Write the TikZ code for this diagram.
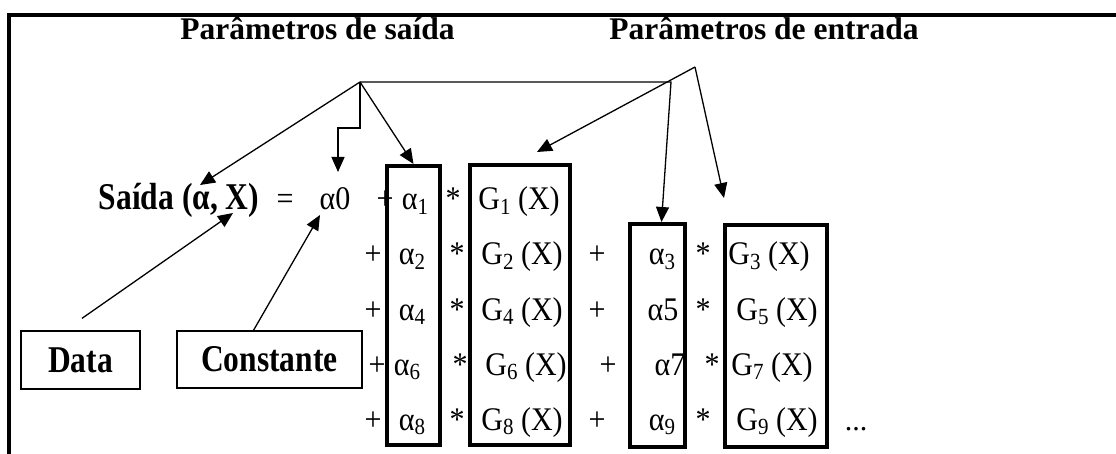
\documentclass[tikz,border=0pt]{standalone}
\usepackage{fontspec}
\setmainfont{Liberation Serif}
\usetikzlibrary{arrows.meta,positioning}
\newcommand{\sbs}[1]{\raisebox{-.15em}{\fontsize{21}{21}\selectfont #1}}
\newcommand{\st}[1]{\scalebox{1}[1.1]{#1}}
\newcommand{\stb}[1]{\scalebox{1}[1.2]{#1}}

\begin{document}
\begin{tikzpicture}[x=1pt, y=-1pt, >={Triangle[length=15pt,width=13pt]}, line width=1.3pt,
    txt/.style={inner sep=0pt, anchor=base, font=\fontsize{30}{34}\selectfont},
    bld/.style={inner sep=0pt, anchor=base, font=\fontsize{31.5}{36}\selectfont\bfseries},
    colbox/.style={draw, line width=4pt, inner sep=0pt},
    lblbox/.style={draw, line width=1.3pt, inner sep=0pt, font=\fontsize{31.5}{36}\selectfont\bfseries}]
    \useasboundingbox (0,0) rectangle (1116,454);
    \draw[line width=4pt] (1120,15) -- (9,15) -- (9,460);
    \node[bld] (tsaida) at (317.5,40) {Parâmetros de saída};
    \node[bld] (tentrada) at (764,40) {Parâmetros de entrada};
    \node[bld] (saida) at (179,210) {\stb{Saída (α, X)}};
    \node[txt] (eq) at (285,210) {\st{=}};
    \node[txt] (a0) at (335,210) {\st{α0}};
    \node[txt] (p1) at (385,210) {\st{+}};
    \node[txt] (a1) at (415,210) {\st{α\sbs{1}}};
    \node[txt] (s1) at (453,210) {\st{*}};
    \node[txt] (g1) at (519,210) {\st{G\sbs{1} (X)}};
    \foreach \n/\b/\xp/\xa/\xs/\xg in {2/265/373/412/457/522, 4/320/373/412/457/522, 6/375/377/407/460/526, 8/430/373/412/457/522} {
      \node[txt] (p\n) at (\xp,\b) {\st{+}};
      \node[txt] (a\n) at (\xa,\b) {\st{α\sbs{\n}}};
      \node[txt] (s\n) at (\xs,\b) {\st{*}};
      \node[txt] (g\n) at (\xg,\b) {\st{G\sbs{\n} (X)}};
    }
    \foreach \n/\b/\xp/\atxt/\xa/\xs/\xg in {3/265/597/{α\sbs{3}}/662/703/769, 5/320/597/α5/663/703/777, 7/375/608/α7/670/712/772, 9/430/597/{α\sbs{9}}/662/703/777} {
      \node[txt] (p\n) at (\xp,\b) {\st{+}};
      \node[txt] (a\n) at (\xa,\b) {\st{\atxt}};
      \node[txt] (s\n) at (\xs,\b) {\st{*}};
      \node[txt] (g\n) at (\xg,\b) {\st{G\sbs{\n} (X)}};
    }
    \node[txt] (dots) at (856,430) {...};
    \node[colbox, minimum width=53pt, minimum height=279pt] (acolA) at (413.5,305.5) {};
    \node[colbox, minimum width=100pt, minimum height=280pt] (gcolA) at (520,305) {};
    \node[colbox, minimum width=55pt, minimum height=223pt] (acolB) at (657.5,335.5) {};
    \node[colbox, minimum width=102pt, minimum height=222pt] (gcolB) at (776,336) {};
    \node[lblbox, minimum width=119pt, minimum height=58pt] (data) at (80.5,360) {\stb{Data}};
    \node[lblbox, minimum width=185pt, minimum height=57pt] (const) at (269.5,359.5) {\stb{Constante}};
    \coordinate (hubS) at (360,82);
    \coordinate (hubE) at (695,67);
    \coordinate (bend) at (671,82);
    \coordinate (tSaida) at (200,185);
    \coordinate (tA0) at (338,172);
    \coordinate (tG1) at (537,152);
    \coordinate (tG3) at (724,198);
    \coordinate (tData) at (233,213);
    \coordinate (tConst) at (320,215);
    \draw[->] (hubS) -- (tSaida);
    \draw[->] (hubS) -- ++(0,46) -| (tA0);
    \draw[->] (hubS) -- (acolA.north);
    \draw[->] (hubS) -- (bend) -- ([xshift=4pt]acolB.north);
    \draw[->] (hubE) -- (tG1);
    \draw[->] (hubE) -- (tG3);
    \draw[->] ([shift={(1.5,-12)}]data.north) -- (tData);
    \draw[->] ([shift={(-16,0)}]const.north) -- (tConst);
  \end{tikzpicture}
\end{document}
